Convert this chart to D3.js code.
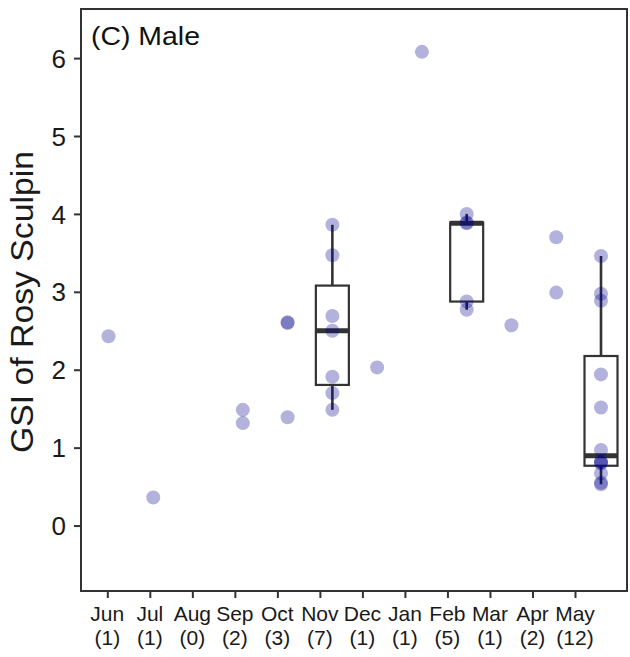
<!DOCTYPE html>
<html>
<head>
<meta charset="utf-8">
<script src="https://cdn.jsdelivr.net/npm/d3@7/dist/d3.min.js"></script>
<style>
  html, body { margin: 0; padding: 0; background: #fff; }
  svg { display: block; font-family: "Liberation Sans", Arial, Helvetica, sans-serif; }
</style>
</head>
<body>
<svg id="chart" width="630" height="657"></svg>
<script>
// ---------- data ----------
const months = ["Jun","Jul","Aug","Sep","Oct","Nov","Dec","Jan","Feb","Mar","Apr","May"];
const counts = [1, 1, 0, 2, 3, 7, 1, 1, 5, 1, 2, 12];
const gsiJun = [2.43];
const gsiJul = [0.36];
const gsiAug = [];
const gsiSep = [1.485, 1.315];
const gsiOct = [2.61, 2.60, 1.39];
const gsiNov = [3.86, 3.47, 2.69, 2.50, 1.91, 1.70, 1.485];
const gsiDec = [2.03];
const gsiJan = [6.08];
const gsiFeb = [4.00, 3.89, 3.88, 2.875, 2.77];
const gsiMar = [2.57];
const gsiApr = [3.70, 2.99];
const gsiMay = [3.46, 2.975, 2.885, 1.94, 1.515, 0.97, 0.82, 0.81, 0.80, 0.67, 0.55, 0.53];
const boxMonths = ["Nov", "Feb", "May"];
const yTicks = [0, 1, 2, 3, 4, 5, 6];
const title = "(C) Male";
const yLabel = "GSI of Rosy Sculpin";

const gsiByMonth = [gsiJun, gsiJul, gsiAug, gsiSep, gsiOct, gsiNov, gsiDec, gsiJan, gsiFeb, gsiMar, gsiApr, gsiMay];

// ---------- layout ----------
const svg = d3.select("#chart");
const panel = { left: 81, top: 9, right: 627, bottom: 591 };
const ink = "#333333";

const y = d3.scaleLinear().domain([-0.84, 6.63]).range([panel.bottom, panel.top]);
// data positions
const xData = d3.scalePoint().domain(months).range([108.5, 601]);
// axis label positions (as in the reference)
const xAxisScale = d3.scalePoint().domain(months).range([107.3, 575]);

// ---------- boxes ----------
const boxW = 33;
const gBox = svg.append("g");
boxMonths.forEach(m => {
  const vals = gsiByMonth[months.indexOf(m)].slice().sort(d3.ascending);
  const q1 = d3.quantile(vals, 0.25), med = d3.quantile(vals, 0.5), q3 = d3.quantile(vals, 0.75);
  const iqr = q3 - q1;
  const lo = d3.min(vals.filter(v => v >= q1 - 1.5 * iqr));
  const hi = d3.max(vals.filter(v => v <= q3 + 1.5 * iqr));
  const cx = xData(m);
  gBox.append("line").attr("x1", cx).attr("x2", cx).attr("y1", y(q3)).attr("y2", y(hi))
    .attr("stroke", ink).attr("stroke-width", 2.6);
  gBox.append("line").attr("x1", cx).attr("x2", cx).attr("y1", y(q1)).attr("y2", y(lo))
    .attr("stroke", ink).attr("stroke-width", 2.6);
  gBox.append("rect").attr("x", cx - boxW / 2).attr("width", boxW)
    .attr("y", y(q3)).attr("height", y(q1) - y(q3))
    .attr("fill", "white").attr("stroke", ink).attr("stroke-width", 2.2);
  gBox.append("line").attr("x1", cx - boxW / 2).attr("x2", cx + boxW / 2)
    .attr("y1", y(med)).attr("y2", y(med))
    .attr("stroke", ink).attr("stroke-width", 5);
});

// ---------- points ----------
const pts = [];
months.forEach((m, i) => gsiByMonth[i].forEach(v => pts.push({ m, v })));
svg.append("g").selectAll("circle").data(pts).join("circle")
  .attr("cx", d => xData(d.m)).attr("cy", d => y(d.v)).attr("r", 7)
  .attr("fill", "#00008B").attr("fill-opacity", 0.3);

// ---------- panel border ----------
svg.append("rect")
  .attr("x", panel.left).attr("y", panel.top)
  .attr("width", panel.right - panel.left).attr("height", panel.bottom - panel.top)
  .attr("fill", "none").attr("stroke", ink).attr("stroke-width", 2);

// ---------- y axis ----------
const yAxis = d3.axisLeft(y).tickValues(yTicks).tickSize(6).tickPadding(8).tickFormat(d3.format("d"));
const gy = svg.append("g").attr("transform", `translate(${panel.left - 1},0)`).call(yAxis);
gy.select(".domain").remove();
gy.selectAll(".tick line").attr("stroke", ink).attr("stroke-width", 2);
gy.selectAll(".tick text").attr("fill", "#1a1a1a").attr("font-size", 26)
  .attr("font-family", "'Liberation Sans', Arial, sans-serif").attr("dy", "0.35em");

// ---------- x axis ----------
const xAxis = d3.axisBottom(xAxisScale).tickSize(6).tickFormat("");
const gx = svg.append("g").attr("transform", `translate(0,${panel.bottom + 1})`).call(xAxis);
gx.select(".domain").remove();
gx.selectAll(".tick line").attr("stroke", ink).attr("stroke-width", 2);
const gxl = svg.append("g");
months.forEach((m, i) => {
  gxl.append("text").attr("x", xAxisScale(m)).attr("y", 621).attr("text-anchor", "middle")
    .attr("font-size", 21).attr("fill", "#1a1a1a").text(m);
  gxl.append("text").attr("x", xAxisScale(m)).attr("y", 645).attr("text-anchor", "middle")
    .attr("font-size", 21).attr("fill", "#1a1a1a").text(`(${counts[i]})`);
});

// ---------- labels ----------
svg.append("text").attr("x", 91).attr("y", 45).attr("font-size", 26).attr("fill", "#111")
  .attr("textLength", 109).attr("lengthAdjust", "spacingAndGlyphs")
  .text(title);
svg.append("text").attr("transform", `translate(33,302) rotate(-90)`)
  .attr("text-anchor", "middle").attr("font-size", 31).attr("fill", "#1a1a1a")
  .attr("textLength", 302).attr("lengthAdjust", "spacingAndGlyphs")
  .text(yLabel);
</script>
</body>
</html>
